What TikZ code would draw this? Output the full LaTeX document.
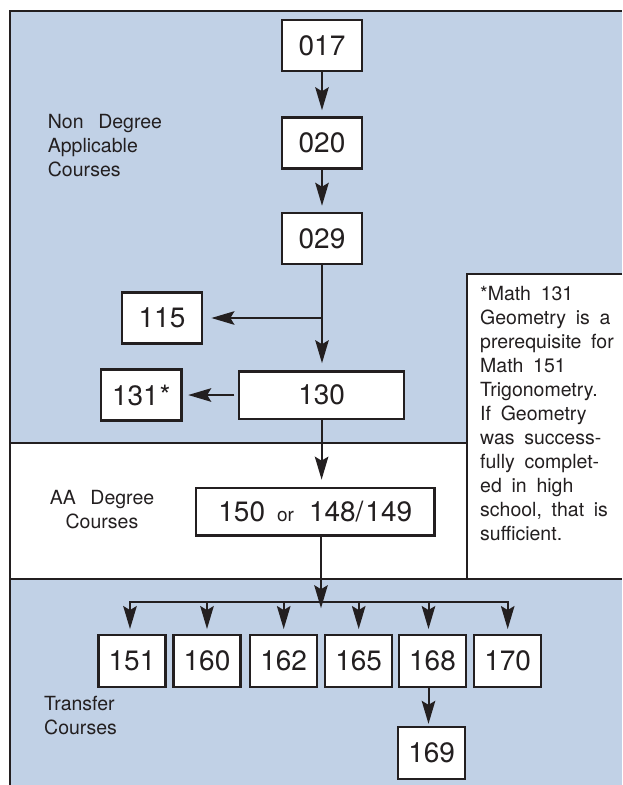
\documentclass[tikz,border=0pt]{standalone}
\usepackage{fontspec}
\setmainfont{TeX Gyre Heros}
\usetikzlibrary{arrows.meta}
\definecolor{bluebg}{RGB}{193,209,230}
\definecolor{ink}{RGB}{35,31,32}
\begin{document}
\begin{tikzpicture}[x=1pt,y=-1pt,
  course/.style={draw=ink, line width=2.3pt, fill=white, minimum width=80.5pt, minimum height=51.2pt, inner sep=0pt, font=\fontsize{28}{30}\selectfont, text=ink},
  small/.style={course, minimum width=67.2pt, minimum height=52pt},
  arr/.style={draw=ink, line width=2pt, -{Stealth[length=23pt,width=13.5pt,inset=4pt]}},
  link/.style={draw=ink, line width=2pt},
  lbl/.style={inner sep=0pt, text=ink, font={\fontsize{19.5}{24}\selectfont\spaceskip=0.75em\relax}},
  notetext/.style={inner sep=0pt, text=ink, font={\fontsize{19.5}{24}\selectfont\spaceskip=0.5em\relax}},
]
\useasboundingbox (0,0) rectangle (622,785);
% background bands
\fill[bluebg] (10,11) rectangle (622,443);
\fill[bluebg] (10,579) rectangle (622,785);
\fill[white] (467,274) rectangle (622,579);
% frame lines
\draw[ink, line width=2.4pt] (10,785) -- (10,11) -- (622,11);
\draw[ink, line width=2.2pt] (10,443) -- (467,443);
\draw[ink, line width=2.2pt] (10,579) -- (622,579);
\draw[ink, line width=2.2pt] (622,274) -- (467,274) -- (467,579);

% course boxes
\node[course] (n017) at (322,45.7) {017};
\node[course] (n020) at (322,143) {020};
\node[course] (n029) at (322,238.5) {029};
\node[course] (n115) at (162,318) {115};
\node[course, minimum width=165.4pt, minimum height=47.3pt] (n130) at (321.6,395) {130};
\node[course] (n131) at (141.3,395) {131\kern1pt*};
\node[course, minimum width=238.5pt, minimum height=47.8pt] (n150) at (315.3,511.7)
  {150\hspace{12pt}{\fontsize{19}{20}\selectfont or}\hspace{15pt}148/\kern2pt 149};
\foreach \nm/\xx in {151/132,160/207,162/283.7,165/358.7,168/432.5,170/507.7}
  \node[small] (n\nm) at (\xx,661.2) {\nm};
\node[small] (n169) at (431.7,753) {169};

% connectors
\draw[arr, shorten >=6pt] (n017) -- (n020);
\draw[arr, shorten >=6pt] (n020) -- (n029);
\draw[arr, shorten >=7pt] (n029.south) -- (n029.south |- n130.north);
\coordinate (b115) at (322,318);
\draw[arr, shorten >=8pt] (b115) -- (n115.east);
\draw[arr, shorten <=3.5pt, shorten >=5.5pt] (n130.west) -- (n131.east);
\draw[arr, shorten >=7pt] (n130.south) -- (n130.south |- n150.north);
\coordinate (hub) at (321,601.7);
\draw[arr] (n150.south -| hub) -- ([yshift=-6.5pt]hub);
\draw[arr, shorten >=5pt] (hub) -- ([xshift=-2pt]n151.north |- hub) -- ([xshift=-2pt]n151.north);
\draw[arr, shorten >=5pt] (hub) -- (n170.north |- hub) -- (n170.north);
\foreach \nm in {160,162,165}
  \draw[arr, shorten >=5pt] (n\nm.north |- hub) -- (n\nm.north);
\draw[arr, shorten >=5pt] ([xshift=-4pt]n168.north |- hub) -- ([xshift=-4pt]n168.north);
\draw[arr, shorten >=2pt] ([xshift=-4pt]n168.south) -- ([xshift=-4pt]n168.south |- n169.north);

% section labels
\node[lbl, anchor=north west, align=left] (lnd) at (47.7,113.3)
  {\rule{0pt}{15pt}Non Degree\\Applicable\\Courses};
\node[lbl, anchor=north, align=center] (laa) at (102,489.3)
  {\rule{0pt}{15pt}AA Degree\\Courses};
\node[lbl, anchor=north west, align=left] (ltr) at (44,695.7)
  {\rule{0pt}{15pt}Transfer\\Courses};

% note
\node[notetext, anchor=north west, align=left] (note) at (480,285)
  {\rule{0pt}{15pt}*Math 131\\Geometry is a\\prerequisite for\\Math 151\\Trigonometry.\\If Geometry\\was success-\\fully complet-\\ed in high\\school, that is\\sufficient.};
\end{tikzpicture}
\end{document}
